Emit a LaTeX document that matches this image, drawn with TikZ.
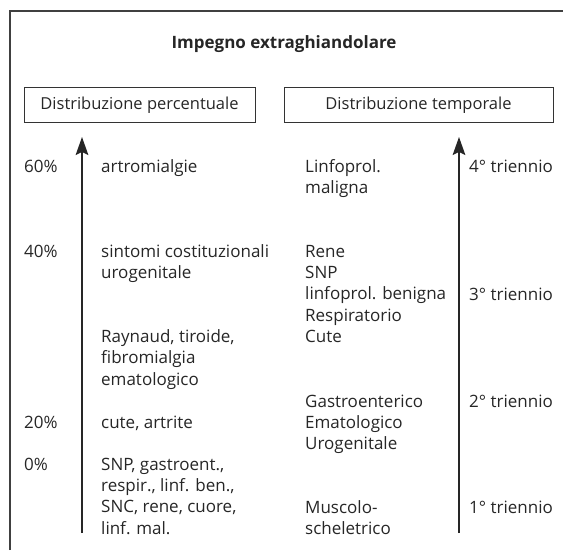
\documentclass[tikz,border=0pt]{standalone}
\usepackage{fontspec}
\setmainfont{Open Sans}
\usetikzlibrary{arrows.meta}
\begin{document}
\begin{tikzpicture}[x=1pt,y=-1pt,
  txt/.style={anchor=base west, inner sep=0pt, align=left,
    font=\fontsize{17}{21.4}\selectfont, text=black!85},
  framel/.style={draw=black!75, line width=1.3pt},
  headbox/.style={draw=black!80, line width=0.9pt, minimum height=35.5pt,
    inner sep=0pt, font=\fontsize{16.5}{20}\selectfont, text=black!85},
  axisarrow/.style={draw=black!85, line width=2.4pt,
    -{Stealth[length=18pt,width=12.5pt,inset=3pt]}}]
\useasboundingbox (0,0) rectangle (563,550);
% frame
\coordinate (fb) at (10,550);
\coordinate (ftl) at (10,11);
\coordinate (ftr) at (563,11);
\draw[framel] (fb) -- (ftl) -- (ftr);
% title
\node[anchor=base, inner sep=0pt, font=\fontsize{17}{20}\selectfont\bfseries, text=black!85]
  (title) at (284,48) {Impegno extraghiandolare};
% header boxes
\node[headbox, minimum width=231pt] (pbox) at (139.5,104.75) {Distribuzione percentuale};
\node[headbox, minimum width=269pt] (tbox) at (418.5,104.75) {Distribuzione temporale};
% axes
\coordinate (lb) at (82,533);
\coordinate (rb) at (459,533);
\draw[axisarrow, shorten >=14pt] (lb) -- (lb |- pbox.south);
\draw[axisarrow, shorten >=14pt] (rb) -- (rb |- tbox.south);
% percent labels
\node[txt] (p60) at (24,172) {60\%};
\node[txt] (p40) at (24,257) {40\%};
\node[txt] (p20) at (24,428.5) {20\%};
\node[txt] (p0) at (24,470) {0\%};
% left column (anchor = baseline of last line)
\node[txt] (a1) at (101,172) {artromialgie};
\node[txt] (a2) at (101,278.4) {sintomi costituzionali\\urogenitale};
\node[txt] (a3) at (101,385.3) {Raynaud, tiroide,\\fibromialgia\\ematologico};
\node[txt] (a4) at (101,428.5) {cute, artrite};
\node[txt] (a5) at (101,534.2) {SNP, gastroent.,\\respir., linf. ben.,\\SNC, rene, cuore,\\linf. mal.};
% middle column
\node[txt] (m1) at (305,193.4) {Linfoprol.\\maligna};
\node[txt] (m2) at (305,342.6) {Rene\\SNP\\linfoprol. benigna\\Respiratorio\\Cute};
\node[txt] (m3) at (305,449.8) {Gastroenterico\\Ematologico\\Urogenitale};
\node[txt] (m4) at (305,534.4) {Muscolo-\\scheletrico};
% right column
\node[txt] (t4) at (469,172) {4° triennio};
\node[txt] (t3) at (469,300) {3° triennio};
\node[txt] (t2) at (469,407) {2° triennio};
\node[txt] (t1) at (469,513) {1° triennio};
\end{tikzpicture}
\end{document}
